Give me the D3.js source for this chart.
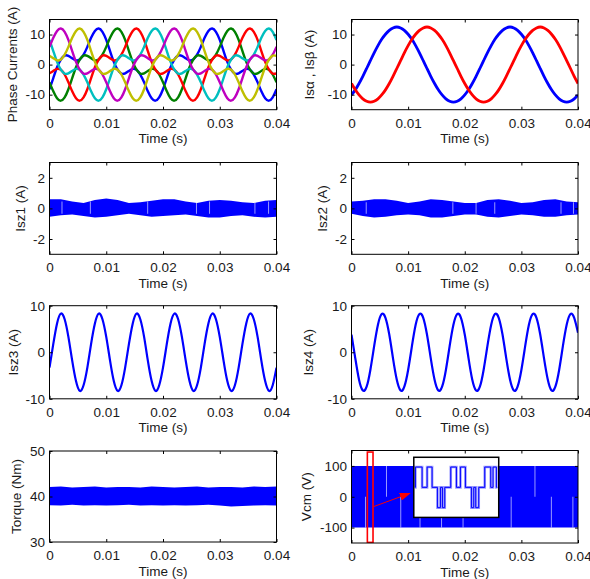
<!DOCTYPE html>
<html>
<head>
<meta charset="utf-8">
<script src="https://cdn.jsdelivr.net/npm/d3@7"></script>
<style>
body { margin: 0; background: #fff; }
</style>
</head>
<body>
<script>
// sample times (ms) for the sampled waveforms
const tPh = [0, 0.67, 1.33, 2, 2.67, 3.33, 4, 4.67, 5.33, 6,
  6.67, 7.33, 8, 8.67, 9.33, 10, 10.67, 11.33, 12, 12.67,
  13.33, 14, 14.67, 15.33, 16, 16.67, 17.33, 18, 18.67, 19.33,
  20, 20.67, 21.33, 22, 22.67, 23.33, 24, 24.67, 25.33, 26,
  26.67, 27.33, 28, 28.67, 29.33, 30, 30.67, 31.33, 32, 32.67,
  33.33, 34, 34.67, 35.33, 36, 36.67, 37.33, 38, 38.67, 39.33, 40]

// phase currents (A)
const iBlue = [-8.2, -4.5, -0.9, 1.7, 3.0, 2.9, 2.1, 1.4, 1.7, 3.3, 5.9, 8.9, 11.2, 12.0, 10.9, 8.2, 4.5, 0.9, -1.7, -3.0, -2.9, -2.1, -1.4, -1.7, -3.3, -5.9, -8.9, -11.2, -12.0, -10.9,
  -8.2, -4.5, -0.9, 1.7, 3.0, 2.9, 2.1, 1.4, 1.7, 3.3, 5.9, 8.9, 11.2, 12.0, 10.9, 8.2, 4.5, 0.9, -1.7, -3.0, -2.9, -2.1, -1.4, -1.7, -3.3, -5.9, -8.9, -11.2, -12.0, -10.9, -8.2]
const iGreen = [-5.9, -8.9, -11.2, -12.0, -10.9, -8.2, -4.5, -0.9, 1.7, 3.0, 2.9, 2.1, 1.4, 1.7, 3.3, 5.9, 8.9, 11.2, 12.0, 10.9, 8.2, 4.5, 0.9, -1.7, -3.0, -2.9, -2.1, -1.4, -1.7, -3.3,
  -5.9, -8.9, -11.2, -12.0, -10.9, -8.2, -4.5, -0.9, 1.7, 3.0, 2.9, 2.1, 1.4, 1.7, 3.3, 5.9, 8.9, 11.2, 12.0, 10.9, 8.2, 4.5, 0.9, -1.7, -3.0, -2.9, -2.1, -1.4, -1.7, -3.3, -5.9]
const iRed = [-2.9, -2.1, -1.4, -1.7, -3.3, -5.9, -8.9, -11.2, -12.0, -10.9, -8.2, -4.5, -0.9, 1.7, 3.0, 2.9, 2.1, 1.4, 1.7, 3.3, 5.9, 8.9, 11.2, 12.0, 10.9, 8.2, 4.5, 0.9, -1.7, -3.0,
  -2.9, -2.1, -1.4, -1.7, -3.3, -5.9, -8.9, -11.2, -12.0, -10.9, -8.2, -4.5, -0.9, 1.7, 3.0, 2.9, 2.1, 1.4, 1.7, 3.3, 5.9, 8.9, 11.2, 12.0, 10.9, 8.2, 4.5, 0.9, -1.7, -3.0, -2.9]
const iCyan = [8.2, 4.5, 0.9, -1.7, -3.0, -2.9, -2.1, -1.4, -1.7, -3.3, -5.9, -8.9, -11.2, -12.0, -10.9, -8.2, -4.5, -0.9, 1.7, 3.0, 2.9, 2.1, 1.4, 1.7, 3.3, 5.9, 8.9, 11.2, 12.0, 10.9,
  8.2, 4.5, 0.9, -1.7, -3.0, -2.9, -2.1, -1.4, -1.7, -3.3, -5.9, -8.9, -11.2, -12.0, -10.9, -8.2, -4.5, -0.9, 1.7, 3.0, 2.9, 2.1, 1.4, 1.7, 3.3, 5.9, 8.9, 11.2, 12.0, 10.9, 8.2]
const iMagenta = [5.9, 8.9, 11.2, 12.0, 10.9, 8.2, 4.5, 0.9, -1.7, -3.0, -2.9, -2.1, -1.4, -1.7, -3.3, -5.9, -8.9, -11.2, -12.0, -10.9, -8.2, -4.5, -0.9, 1.7, 3.0, 2.9, 2.1, 1.4, 1.7, 3.3,
  5.9, 8.9, 11.2, 12.0, 10.9, 8.2, 4.5, 0.9, -1.7, -3.0, -2.9, -2.1, -1.4, -1.7, -3.3, -5.9, -8.9, -11.2, -12.0, -10.9, -8.2, -4.5, -0.9, 1.7, 3.0, 2.9, 2.1, 1.4, 1.7, 3.3, 5.9]
const iYellow = [2.9, 2.1, 1.4, 1.7, 3.3, 5.9, 8.9, 11.2, 12.0, 10.9, 8.2, 4.5, 0.9, -1.7, -3.0, -2.9, -2.1, -1.4, -1.7, -3.3, -5.9, -8.9, -11.2, -12.0, -10.9, -8.2, -4.5, -0.9, 1.7, 3.0,
  2.9, 2.1, 1.4, 1.7, 3.3, 5.9, 8.9, 11.2, 12.0, 10.9, 8.2, 4.5, 0.9, -1.7, -3.0, -2.9, -2.1, -1.4, -1.7, -3.3, -5.9, -8.9, -11.2, -12.0, -10.9, -8.2, -4.5, -0.9, 1.7, 3.0, 2.9]

// alpha-beta currents (A)
const isAlpha = [-10.1, -8.4, -6.3, -3.9, -1.3, 1.3, 3.9, 6.3, 8.4, 10.1, 11.4, 12.2, 12.5, 12.2, 11.4, 10.1, 8.4, 6.3, 3.9, 1.3, -1.3, -3.9, -6.3, -8.4, -10.1, -11.4, -12.2, -12.5, -12.2, -11.4,
  -10.1, -8.4, -6.3, -3.9, -1.3, 1.3, 3.9, 6.3, 8.4, 10.1, 11.4, 12.2, 12.5, 12.2, 11.4, 10.1, 8.4, 6.3, 3.9, 1.3, -1.3, -3.9, -6.3, -8.4, -10.1, -11.4, -12.2, -12.5, -12.2, -11.4, -10.1]
const isBeta = [-6.3, -8.4, -10.1, -11.4, -12.2, -12.5, -12.2, -11.4, -10.1, -8.4, -6.3, -3.9, -1.3, 1.3, 3.9, 6.3, 8.4, 10.1, 11.4, 12.2, 12.5, 12.2, 11.4, 10.1, 8.4, 6.3, 3.9, 1.3, -1.3, -3.9,
  -6.3, -8.4, -10.1, -11.4, -12.2, -12.5, -12.2, -11.4, -10.1, -8.4, -6.3, -3.9, -1.3, 1.3, 3.9, 6.3, 8.4, 10.1, 11.4, 12.2, 12.5, 12.2, 11.4, 10.1, 8.4, 6.3, 3.9, 1.3, -1.3, -3.9, -6.3]

// z3 / z4 currents (A)
const isz3 = [-3.3, 1.8, 6.2, 8.3, 7.1, 3.3, -1.8, -6.2, -8.3, -7.1, -3.3, 1.8, 6.2, 8.3, 7.1, 3.3, -1.8, -6.2, -8.3, -7.1,
  -3.3, 1.8, 6.2, 8.3, 7.1, 3.3, -1.8, -6.2, -8.3, -7.1, -3.3, 1.8, 6.2, 8.3, 7.1, 3.3, -1.8, -6.2, -8.3, -7.1,
  -3.3, 1.8, 6.2, 8.3, 7.1, 3.3, -1.8, -6.2, -8.3, -7.1, -3.3, 1.8, 6.2, 8.3, 7.1, 3.3, -1.8, -6.2, -8.3, -7.1, -3.3]
const isz4 = [3.8, -1.3, -5.9, -8.2, -7.4, -3.8, 1.3, 5.9, 8.2, 7.4, 3.8, -1.3, -5.9, -8.2, -7.4, -3.8, 1.3, 5.9, 8.2, 7.4,
  3.8, -1.3, -5.9, -8.2, -7.4, -3.8, 1.3, 5.9, 8.2, 7.4, 3.8, -1.3, -5.9, -8.2, -7.4, -3.8, 1.3, 5.9, 8.2, 7.4,
  3.8, -1.3, -5.9, -8.2, -7.4, -3.8, 1.3, 5.9, 8.2, 7.4, 3.8, -1.3, -5.9, -8.2, -7.4, -3.8, 1.3, 5.9, 8.2, 7.4, 4.2]

// ripple band envelopes, sampled every 2 ms
const tBand = [0, 2, 4, 6, 8, 10, 12, 14, 16, 18, 20, 22, 24, 26, 28, 30, 32, 34, 36, 38, 40]
const isz1Hi = [0.6, 0.6, 0.45, 0.35, 0.55, 0.65, 0.55, 0.35, 0.4, 0.5, 0.6, 0.6, 0.45, 0.35, 0.5, 0.55, 0.5, 0.4, 0.35, 0.5, 0.55]
const isz1Lo = [-0.55, -0.45, -0.4, -0.5, -0.6, -0.55, -0.45, -0.35, -0.45, -0.55, -0.5, -0.45, -0.4, -0.5, -0.6, -0.6, -0.5, -0.45, -0.55, -0.6, -0.55]
const isz2Hi = [0.45, 0.5, 0.6, 0.6, 0.5, 0.35, 0.45, 0.6, 0.55, 0.45, 0.35, 0.35, 0.55, 0.6, 0.5, 0.35, 0.4, 0.55, 0.6, 0.45, 0.4]
const isz2Lo = [-0.35, -0.5, -0.6, -0.55, -0.45, -0.4, -0.45, -0.6, -0.6, -0.5, -0.4, -0.4, -0.55, -0.6, -0.5, -0.4, -0.45, -0.55, -0.55, -0.45, -0.4]
const torqueHi = [42.1, 42.2, 42.0, 42.1, 42.2, 42.0, 42.1, 42.1, 42.0, 42.2, 42.1, 42.0, 42.1, 42.2, 42.0, 42.1, 42.1, 42.0, 42.2, 42.1, 42.2]
const torqueLo = [38.1, 38.0, 38.2, 38.0, 38.1, 38.0, 38.1, 38.2, 38.0, 38.1, 38.0, 38.1, 38.0, 38.1, 38.2, 38.0, 37.8, 37.9, 38.0, 38.1, 38.0]

// thin light streaks inside the ripple bands
const isz1GapT = [2.2, 7.2, 17.3, 25.9, 28.2, 36.2, 38.6]
const isz2GapT = [2.6, 17.9, 22.0, 25.3, 37.0, 39.2]

// common-mode voltage band (V)
const tVcm = [0, 40]
const vcmHi = [100, 100]
const vcmLo = [-100, -100]
const vcmGapT = [2.47, 6.18, 8.7, 12.1, 15.9, 19.7, 28.2, 32.4, 35.3, 39.1]
const vcmGapLo = [-100, 0, -100, -100, -100, -100, -100, 0, -100, -100]
const vcmGapHi = [0, 100, 0, -40, -60, -20, 0, 100, 0, 0]

// zoom marker, arrow and inset on the Vcm plot (ms, V)
const markT = [2.8, 3.8]
const markV = [-148, 145]
const arrowT = [3.9, 10.3]
const arrowV = [-32, 11]
const insetT = [11.0, 26.0]
const insetV = [-67, 128]
// inset switching pattern: position (0..255) and level
const insetX = [3, 5, 25, 40, 55, 71, 80, 86, 93, 111, 128, 140, 155, 173, 180, 186, 195, 213, 231, 238, 248, 251]
const insetLevel = [0, 1, 0, 1, 0, -1, 0, -1, 0, 1, 0, 1, 0, -1, 0, -1, 0, 1, 0, 1, 0, 0]

const xTickVals = [0, 10, 20, 30, 40]
const xTickLabels = ['0', '0.01', '0.02', '0.03', '0.04']

const FONT = '"Liberation Sans", Arial, sans-serif'
const TXT = '#1a1a1a'

const svg = d3.select('body')
    .append('svg')
    .attr('width', 590)
    .attr('height', 579)

const defs = svg.append('defs')
defs.append('marker')
    .attr('id', 'arrowhead')
    .attr('markerUnits', 'userSpaceOnUse')
    .attr('markerWidth', 11)
    .attr('markerHeight', 8)
    .attr('refX', 10)
    .attr('refY', 4)
    .attr('orient', 'auto')
    .append('path')
    .attr('d', 'M0,0 L11,4 L0,8 Z')
    .attr('fill', '#ff0000')

function makePanel(p) {
    const x = d3.scaleLinear().domain([0, 40]).range([p.left, p.left + p.width])
    const y = d3.scaleLinear().domain(p.ydom).range([p.bottom, p.top])
    defs.append('clipPath').attr('id', 'clip' + p.id)
        .append('rect')
        .attr('x', p.left).attr('y', p.top)
        .attr('width', p.width).attr('height', p.bottom - p.top)
    const plot = svg.append('g').attr('clip-path', `url(#clip${p.id})`)
    return { x, y, plot, p }
}

function styleAxis(g) {
    g.attr('font-family', FONT).attr('font-size', 13.5)
    g.select('.domain').remove()
    g.selectAll('line').attr('stroke', '#000')
    g.selectAll('text').attr('fill', TXT)
}

function finishPanel(P) {
    const { x, y, p } = P
    const fmt = d => xTickLabels[xTickVals.indexOf(d)]
    svg.append('g').attr('transform', `translate(0,${p.bottom})`)
        .call(d3.axisBottom(x).tickValues(xTickVals).tickFormat(fmt)
            .tickSizeInner(-3).tickSizeOuter(0).tickPadding(8.5))
        .call(styleAxis)
    svg.append('g').attr('transform', `translate(0,${p.top})`)
        .call(d3.axisTop(x).tickValues(xTickVals).tickFormat('')
            .tickSizeInner(-3).tickSizeOuter(0))
        .call(styleAxis)
    svg.append('g').attr('transform', `translate(${p.left},0)`)
        .call(d3.axisLeft(y).tickValues(p.yticks).tickFormat(d => String(d))
            .tickSizeInner(-3).tickSizeOuter(0).tickPadding(4.5))
        .call(styleAxis)
    svg.append('g').attr('transform', `translate(${p.left + p.width},0)`)
        .call(d3.axisRight(y).tickValues(p.yticks).tickFormat('')
            .tickSizeInner(-3).tickSizeOuter(0))
        .call(styleAxis)

    svg.append('rect')
        .attr('x', p.left).attr('y', p.top)
        .attr('width', p.width).attr('height', p.bottom - p.top)
        .attr('fill', 'none').attr('stroke', '#000').attr('stroke-width', 1)

    svg.append('text')
        .attr('x', p.left + p.width / 2)
        .attr('y', p.bottom + 33.5)
        .attr('text-anchor', 'middle')
        .attr('font-family', FONT).attr('font-size', 13.5).attr('fill', TXT)
        .text('Time (s)')

    svg.append('text')
        .attr('transform', `translate(${p.left - p.labelDx},${(p.top + p.bottom) / 2}) rotate(-90)`)
        .attr('dy', '0.35em')
        .attr('text-anchor', 'middle')
        .attr('font-family', FONT).attr('font-size', 13.5).attr('fill', TXT)
        .text(p.ylabel)
}

function drawLine(P, t, v, color, width) {
    const line = d3.line()
        .curve(d3.curveNatural)
        .x(d => P.x(d[0]))
        .y(d => P.y(d[1]))
    P.plot.append('path')
        .datum(t.map((tt, i) => [tt, v[i]]))
        .attr('d', line)
        .attr('fill', 'none')
        .attr('stroke', color)
        .attr('stroke-width', width)
        .attr('stroke-linejoin', 'round')
}

function drawBand(P, t, hi, lo) {
    const area = d3.area()
        .x(d => P.x(d[0]))
        .y0(d => P.y(d[2]))
        .y1(d => P.y(d[1]))
    P.plot.append('path')
        .datum(t.map((tt, i) => [tt, hi[i], lo[i]]))
        .attr('d', area)
        .attr('fill', '#0000ff')
}

function drawStreaks(P, ts, lo, hi) {
    P.plot.selectAll(null)
        .data(ts.map((t, i) => [t, lo[i], hi[i]]))
        .join('line')
        .attr('x1', d => P.x(d[0])).attr('x2', d => P.x(d[0]))
        .attr('y1', d => P.y(d[1])).attr('y2', d => P.y(d[2]))
        .attr('stroke', '#ffffff')
        .attr('stroke-opacity', 0.75)
        .attr('stroke-width', 0.8)
}

// ---- row 1
const P1 = makePanel({ id: 1, left: 49.5, width: 227, top: 19.5, bottom: 109.7,
    ydom: [-15, 15], yticks: [-10, 0, 10], ylabel: 'Phase Currents (A)', labelDx: 37 })
drawLine(P1, tPh, iBlue, '#0000ff', 2.4)
drawLine(P1, tPh, iGreen, '#008000', 2.4)
drawLine(P1, tPh, iRed, '#ff0000', 2.4)
drawLine(P1, tPh, iCyan, '#00bfbf', 2.4)
drawLine(P1, tPh, iMagenta, '#bf00bf', 2.4)
drawLine(P1, tPh, iYellow, '#bfbf00', 2.4)
finishPanel(P1)

const P2 = makePanel({ id: 2, left: 351.5, width: 226.5, top: 19.5, bottom: 109.7,
    ydom: [-15, 15], yticks: [-10, 0, 10], ylabel: 'Isα , Isβ (A)', labelDx: 42.5 })
drawLine(P2, tPh, isAlpha, '#0000ff', 2.8)
drawLine(P2, tPh, isBeta, '#ff0000', 2.8)
finishPanel(P2)

// ---- row 2
const P3 = makePanel({ id: 3, left: 49.5, width: 227, top: 162.5, bottom: 254.3,
    ydom: [-3, 3], yticks: [-2, 0, 2], ylabel: 'Isz1 (A)', labelDx: 29.5 })
drawBand(P3, tBand, isz1Hi, isz1Lo)
drawStreaks(P3, isz1GapT, isz1GapT.map(() => -0.35), isz1GapT.map(() => 0.45))
finishPanel(P3)

const P4 = makePanel({ id: 4, left: 351.5, width: 226.5, top: 162.5, bottom: 254.3,
    ydom: [-3, 3], yticks: [-2, 0, 2], ylabel: 'Isz2 (A)', labelDx: 29.5 })
drawBand(P4, tBand, isz2Hi, isz2Lo)
drawStreaks(P4, isz2GapT, isz2GapT.map(() => -0.35), isz2GapT.map(() => 0.4))
finishPanel(P4)

// ---- row 3
const P5 = makePanel({ id: 5, left: 49.5, width: 227, top: 305.7, bottom: 398.8,
    ydom: [-10, 10], yticks: [-10, 0, 10], ylabel: 'Isz3 (A)', labelDx: 36.5 })
drawLine(P5, tPh, isz3, '#0000ff', 2.2)
finishPanel(P5)

const P6 = makePanel({ id: 6, left: 351.5, width: 226.5, top: 305.7, bottom: 398.8,
    ydom: [-10, 10], yticks: [-10, 0, 10], ylabel: 'Isz4 (A)', labelDx: 43.5 })
drawLine(P6, tPh, isz4, '#0000ff', 2.2)
finishPanel(P6)

// ---- row 4
const P7 = makePanel({ id: 7, left: 49.5, width: 227, top: 451, bottom: 542,
    ydom: [30, 50], yticks: [30, 40, 50], ylabel: 'Torque (Nm)', labelDx: 33 })
drawBand(P7, tBand, torqueHi, torqueLo)
finishPanel(P7)

const P8 = makePanel({ id: 8, left: 351.5, width: 226.5, top: 450.5, bottom: 543,
    ydom: [-150, 150], yticks: [-100, 0, 100], ylabel: 'Vcm (V)', labelDx: 45 })
drawBand(P8, tVcm, vcmHi, vcmLo)
drawStreaks(P8, vcmGapT, vcmGapLo, vcmGapHi)

// zoom marker
P8.plot.append('rect')
    .attr('x', P8.x(markT[0])).attr('y', P8.y(markV[1]))
    .attr('width', P8.x(markT[1]) - P8.x(markT[0]))
    .attr('height', P8.y(markV[0]) - P8.y(markV[1]))
    .attr('fill', 'none').attr('stroke', '#ff0000').attr('stroke-width', 1.6)

// arrow
P8.plot.append('line')
    .attr('x1', P8.x(arrowT[0])).attr('y1', P8.y(arrowV[0]))
    .attr('x2', P8.x(arrowT[1])).attr('y2', P8.y(arrowV[1]))
    .attr('stroke', '#ff0000').attr('stroke-width', 1)
    .attr('marker-end', 'url(#arrowhead)')

// inset
const ix0 = P8.x(insetT[0]), ix1 = P8.x(insetT[1])
const iy0 = P8.y(insetV[1]), iy1 = P8.y(insetV[0])
const inset = svg.append('g')
inset.append('rect')
    .attr('x', ix0).attr('y', iy0)
    .attr('width', ix1 - ix0).attr('height', iy1 - iy0)
    .attr('fill', '#ffffff')
const sx = d3.scaleLinear().domain([0, 255]).range([ix0, ix1])
const sy = d3.scaleLinear().domain([-1.48, 1.48]).range([iy1, iy0])
const stepLine = d3.line()
    .curve(d3.curveStepAfter)
    .x(d => sx(d[0]))
    .y(d => sy(d[1]))
const stepData = insetX.map((xx, i) => [xx, insetLevel[i]])
inset.append('path')
    .datum(stepData)
    .attr('d', stepLine)
    .attr('fill', 'none')
    .attr('stroke', '#9a9aff')
    .attr('stroke-width', 2.6)
inset.append('path')
    .datum(stepData)
    .attr('d', stepLine)
    .attr('fill', 'none')
    .attr('stroke', '#0000ff')
    .attr('stroke-width', 1)
inset.append('rect')
    .attr('x', ix0).attr('y', iy0)
    .attr('width', ix1 - ix0).attr('height', iy1 - iy0)
    .attr('fill', 'none').attr('stroke', '#000').attr('stroke-width', 1.5)

finishPanel(P8)
</script>
</body>
</html>
